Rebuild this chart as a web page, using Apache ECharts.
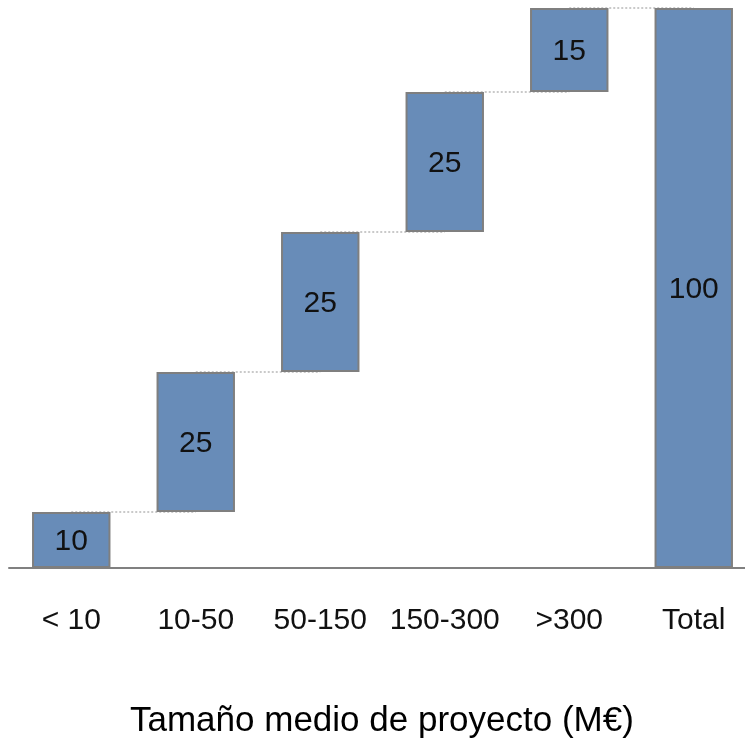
<!DOCTYPE html>
<html>
<head>
<meta charset="utf-8">
<script src="https://cdn.jsdelivr.net/npm/echarts@6/dist/echarts.min.js"></script>
<style>
  html, body { margin: 0; padding: 0; background: #fff; overflow: hidden; width: 745px; height: 742px; }
  #chart { width: 756px; height: 742px; }
</style>
</head>
<body>
<div id="chart"></div>
<script>
// Project-size waterfall
const categories = ['< 10', '10-50', '50-150', '150-300', '>300', 'Total'];
const values = [10, 25, 25, 25, 15, 100];
const offsets = [0, 10, 35, 60, 85, 0];
const axisTitle = 'Tamaño medio de proyecto (M€)';

const chart = echarts.init(document.getElementById('chart'), null, { renderer: 'canvas' });

// connector segments: top of each step to the next bar
const connectors = [];
for (let i = 0; i < categories.length - 1; i++) {
  connectors.push([i, offsets[i] + values[i]]);
}

chart.setOption({
  animation: false,
  grid: { left: 9, right: 0, top: 8, bottom: 174, containLabel: false },
  xAxis: {
    type: 'category',
    data: categories,
    axisLine: { lineStyle: { color: '#808080', width: 2 } },
    axisTick: { show: false },
    axisLabel: {
      interval: 0,
      margin: 38,
      fontFamily: 'Liberation Sans',
      fontSize: 30,
      color: '#111'
    }
  },
  yAxis: {
    type: 'value', min: 0, max: 100, show: false,
    splitLine: { show: false }
  },
  graphic: [{
    type: 'text',
    left: 130, top: 704,
    style: {
      text: axisTitle,
      font: '35px "Liberation Sans"',
      fill: '#000'
    }
  }],
  series: [
    {
      type: 'custom',
      z: 1,
      silent: true,
      data: connectors,
      renderItem: function (params, api) {
        const i = api.value(0);
        const v = api.value(1);
        const a = api.coord([i, v]);
        const b = api.coord([i + 1, v]);
        return {
          type: 'line',
          shape: { x1: a[0], y1: a[1], x2: b[0], y2: b[1] },
          style: { stroke: '#b8b8b8', lineWidth: 1.5, lineDash: [2, 2] }
        };
      }
    },
    {
      type: 'bar',
      stack: 'w',
      z: 2,
      silent: true,
      barWidth: '63%',
      itemStyle: { color: 'transparent', borderWidth: 0 },
      data: offsets
    },
    {
      type: 'bar',
      stack: 'w',
      z: 2,
      barWidth: '63%',
      itemStyle: { color: '#688cb8', borderColor: '#7f7f7f', borderWidth: 2 },
      label: {
        show: true,
        position: 'inside',
        offset: [0, 2],
        fontFamily: 'Liberation Sans',
        fontSize: 30,
        color: '#111'
      },
      data: values
    }
  ]
});
</script>
</body>
</html>
